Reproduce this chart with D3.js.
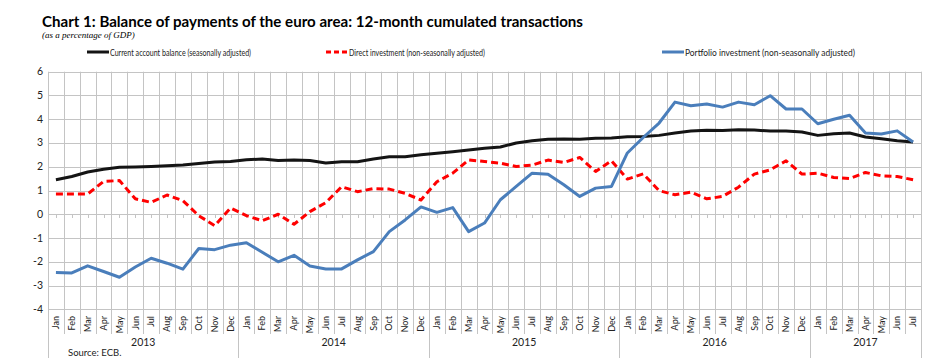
<!DOCTYPE html>
<html>
<head>
<meta charset="utf-8">
<script src="https://cdn.jsdelivr.net/npm/d3@7"></script>
<style>
  body { margin: 0; background: #fff; }
  svg { display: block; font-family: Lato, "Open Sans", sans-serif; }
</style>
</head>
<body>
<svg id="chart" width="946" height="363"></svg>
<script>
(function () {
    'use strict';

    var monthNames = ["Jan","Feb","Mar","Apr","May","Jun","Jul","Aug","Sep","Oct","Nov","Dec"];
    var years = ["2013","2014","2015","2016","2017"];
    var monthsInLastYear = 7;

    var yTicks = [-4,-3,-2,-1,0,1,2,3,4,5,6];

    // current account balance (seasonally adjusted)
    var currentAccount = [
        1.45, 1.59, 1.78, 1.89, 1.98, 1.99, 2.01, 2.04, 2.07, 2.14, 2.20, 2.22,
        2.29, 2.33, 2.26, 2.28, 2.26, 2.16, 2.21, 2.21, 2.33, 2.42, 2.42, 2.50,
        2.57, 2.63, 2.70, 2.78, 2.83, 3.00, 3.09, 3.16, 3.17, 3.16, 3.20, 3.21,
        3.26, 3.27, 3.32, 3.42, 3.50, 3.54, 3.53, 3.56, 3.55, 3.50, 3.50, 3.46,
        3.32, 3.39, 3.42, 3.25, 3.18, 3.09, 3.04
    ];
    // direct investment (non-seasonally adjusted)
    var directInvestment = [
        0.85, 0.85, 0.85, 1.38, 1.42, 0.65, 0.50, 0.81, 0.57, -0.06, -0.48, 0.26,
        -0.06, -0.27, 0.00, -0.42, 0.11, 0.49, 1.16, 0.95, 1.08, 1.06, 0.88, 0.60,
        1.37, 1.73, 2.29, 2.22, 2.15, 2.01, 2.07, 2.28, 2.18, 2.39, 1.80, 2.25,
        1.48, 1.70, 0.99, 0.82, 0.93, 0.65, 0.75, 1.14, 1.69, 1.87, 2.25, 1.69,
        1.73, 1.55, 1.50, 1.76, 1.62, 1.59, 1.45
    ];
    // portfolio investment (non-seasonally adjusted)
    var portfolioInvestment = [
        -2.45, -2.47, -2.17, -2.41, -2.65, -2.22, -1.85, -2.06, -2.31, -1.44, -1.49, -1.30,
        -1.20, -1.60, -2.00, -1.73, -2.18, -2.30, -2.30, -1.92, -1.57, -0.73, -0.24, 0.31,
        0.08, 0.28, -0.73, -0.37, 0.61, 1.17, 1.73, 1.68, 1.24, 0.75, 1.10, 1.17,
        2.58, 3.23, 3.84, 4.72, 4.57, 4.64, 4.51, 4.72, 4.61, 4.99, 4.43, 4.43,
        3.81, 4.00, 4.17, 3.42, 3.38, 3.51, 3.04
    ];

    // build category list (year, month)
    var categories = [];
    years.forEach(function (yr, yi) {
        var n = (yi === years.length - 1) ? monthsInLastYear : 12;
        for (var m = 0; m < n; m++) categories.push({ key: yr + "-" + m, month: monthNames[m], year: yr });
    });

    var svg = d3.select("#chart");
    var left = 48, right = 921, top = 71.7, bottom = 309.3;

    var x = d3.scaleBand()
        .domain(categories.map(function (d) { return d.key; }))
        .range([left, right])
        .paddingInner(0).paddingOuter(0);
    var bw = x.bandwidth();
    var cx = function (i) { return x(categories[i].key) + bw / 2; };

    var y = d3.scaleLinear().domain([-4, 6]).range([bottom, top]);

    var grid = "#c4c4c4";

    // horizontal gridlines
    svg.append("g").selectAll("line")
        .data(yTicks).enter().append("line")
        .attr("x1", left).attr("x2", right)
        .attr("y1", function (d) { return Math.round(y(d)) + 0.5; })
        .attr("y2", function (d) { return Math.round(y(d)) + 0.5; })
        .attr("stroke", grid).attr("stroke-width", 1);

    // vertical gridlines at category boundaries (extend into label area)
    var bounds = categories.map(function (d, i) { return i; }).concat([categories.length]);
    svg.append("g").selectAll("line")
        .data(bounds).enter().append("line")
        .attr("x1", function (i) { return Math.round(left + i * bw) + 0.5; })
        .attr("x2", function (i) { return Math.round(left + i * bw) + 0.5; })
        .attr("y1", top)
        .attr("y2", function (i) {
            var isYear = (i % 12 === 0) || i === categories.length;
            return isYear ? 358 : 334;
        })
        .attr("stroke", grid).attr("stroke-width", 1);

    // small ticks on the zero axis
    svg.append("g").selectAll("line")
        .data(categories).enter().append("line")
        .attr("x1", function (d, i) { return Math.round(cx(i)) + 0.5; })
        .attr("x2", function (d, i) { return Math.round(cx(i)) + 0.5; })
        .attr("y1", Math.round(y(0))).attr("y2", Math.round(y(0)) + 4)
        .attr("stroke", grid);

    // y axis labels
    svg.append("g").selectAll("text")
        .data(yTicks).enter().append("text")
        .attr("x", 43).attr("y", function (d) { return y(d) + 3.5; })
        .attr("text-anchor", "end")
        .attr("font-size", 10.5).attr("fill", "#222")
        .text(function (d) { return d; });

    // month labels
    svg.append("g").selectAll("text")
        .data(categories).enter().append("text")
        .attr("transform", function (d, i) { return "translate(" + (cx(i) + 3.2) + ",316) rotate(-90)"; })
        .attr("text-anchor", "end")
        .attr("font-size", 9).attr("fill", "#222")
        .text(function (d) { return d.month; });

    // year labels
    svg.append("g").selectAll("text")
        .data(years).enter().append("text")
        .attr("x", function (yr, yi) {
            var first = yi * 12, n = (yi === years.length - 1) ? monthsInLastYear : 12;
            return left + (first + n / 2) * bw;
        })
        .attr("y", 346)
        .attr("text-anchor", "middle")
        .attr("font-size", 10.5).attr("fill", "#222")
        .text(function (d) { return d; });

    svg.append("text")
        .attr("x", 68).attr("y", 356)
        .attr("font-size", 9.5).attr("fill", "#222")
        .text("Source: ECB.");

    // series lines
    var line = d3.line()
        .x(function (d, i) { return cx(i); })
        .y(function (d) { return y(d); });

    var series = [
        { name: "Current account balance (seasonally adjusted)", values: currentAccount, color: "#141414", dash: null },
        { name: "Direct investment (non-seasonally adjusted)", values: directInvestment, color: "#ff0000", dash: "7,4" },
        { name: "Portfolio investment (non-seasonally adjusted)", values: portfolioInvestment, color: "#4a7ebb", dash: null }
    ];

    svg.append("g").selectAll("path")
        .data(series).enter().append("path")
        .attr("d", function (s) { return line(s.values); })
        .attr("fill", "none")
        .attr("stroke", function (s) { return s.color; })
        .attr("stroke-width", 3)
        .attr("stroke-linejoin", "round")
        .attr("stroke-dasharray", function (s) { return s.dash; });

    // legend
    var legendPos = [
        { x: 87, w: 141 },
        { x: 326, w: 136 },
        { x: 662, w: 170 }
    ];
    var leg = svg.append("g").selectAll("g")
        .data(series).enter().append("g")
        .attr("transform", function (s, i) { return "translate(" + legendPos[i].x + ",52)"; });
    leg.append("line")
        .attr("x1", 0).attr("x2", 22).attr("y1", 0).attr("y2", 0)
        .attr("stroke", function (s) { return s.color; })
        .attr("stroke-width", 3)
        .attr("stroke-dasharray", function (s) { return s.dash ? "5,3" : null; });
    leg.append("text")
        .attr("x", 23).attr("y", 3.5)
        .attr("font-size", 10).attr("fill", "#222")
        .attr("textLength", function (s, i) { return legendPos[i].w; })
        .attr("lengthAdjust", "spacingAndGlyphs")
        .text(function (s) { return s.name; });

    // title
    svg.append("text")
        .attr("x", 42).attr("y", 27)
        .attr("font-size", 15.5).attr("font-weight", "bold").attr("fill", "#000")
        .attr("textLength", 541).attr("lengthAdjust", "spacingAndGlyphs")
        .text("Chart 1: Balance of payments of the euro area: 12-month cumulated transactions");

    svg.append("text")
        .attr("x", 42).attr("y", 38)
        .attr("font-family", "'Liberation Serif', serif")
        .attr("font-style", "italic")
        .attr("font-size", 9).attr("fill", "#000")
        .text("(as a percentage of GDP)");
}());
</script>
</body>
</html>
